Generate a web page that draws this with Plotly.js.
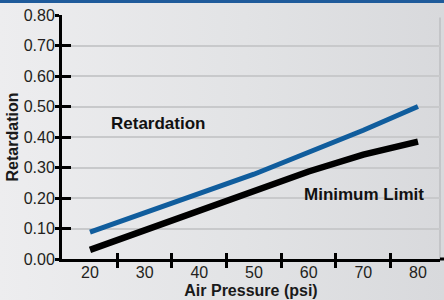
<!DOCTYPE html>
<html>
<head>
<meta charset="utf-8">
<script src="https://cdn.plot.ly/plotly-3.0.1.min.js"></script>
<style>
  html, body { margin: 0; padding: 0; }
  body {
    width: 444px; height: 300px; overflow: hidden;
    background: linear-gradient(to right, #ededef 0%, #e2e3e5 55%, #d8d9dc 100%);
  }
  #topband { position: absolute; left: 0; top: 0; width: 444px; height: 3px; background: #1f5b9b; }
  #chart { position: absolute; left: 0; top: 0; width: 444px; height: 300px; }
</style>
</head>
<body>
<div id="topband"></div>
<div id="chart"></div>
<script>
// Data
const pressure = [20, 30, 40, 50, 60, 70, 80];
const retardation = [0.088, 0.150, 0.212, 0.278, 0.350, 0.422, 0.500];
const minimumLimit = [0.030, 0.095, 0.155, 0.220, 0.287, 0.342, 0.385];
const xTickLabels = ['20', '30', '40', '50', '60', '70', '80'];
const xMarkTicks = [25, 35, 45, 55, 65, 75];
const yTicks = [0, 0.1, 0.2, 0.3, 0.4, 0.5, 0.6, 0.7, 0.8];

const xRange = [14.878, 84.03];
const yRange = [0, 0.8];
const fontFam = '"Liberation Sans", Arial, sans-serif';

const traces = [
  {x: pressure, y: minimumLimit, type: 'scatter', mode: 'lines', name: 'Minimum Limit',
   line: {color: '#000000', width: 6.5}, hoverinfo: 'skip'},
  {x: pressure, y: retardation, type: 'scatter', mode: 'lines', name: 'Retardation',
   line: {color: '#105d9d', width: 5}, hoverinfo: 'skip'},
  // empty carriers so the overlay axes (crossing ticks, labels) get drawn
  {x: [], y: [], type: 'scatter', mode: 'lines', xaxis: 'x2', yaxis: 'y2', hoverinfo: 'skip'},
  {x: [], y: [], type: 'scatter', mode: 'lines', xaxis: 'x3', yaxis: 'y', hoverinfo: 'skip'}
];

const layout = {
  width: 444, height: 300,
  margin: {l: 62, r: 4, t: 15, b: 41, pad: 0},
  paper_bgcolor: 'rgba(0,0,0,0)',
  plot_bgcolor: 'rgba(0,0,0,0)',
  showlegend: false,
  font: {family: fontFam, color: '#231f20', size: 16},
  xaxis: {
    range: xRange, fixedrange: true, anchor: 'y',
    tickmode: 'array', tickvals: xMarkTicks, showticklabels: false,
    ticks: 'outside', ticklen: 6, tickwidth: 3, tickcolor: '#000',
    showline: true, linecolor: '#000', linewidth: 3,
    showgrid: false, zeroline: false
  },
  xaxis2: {
    overlaying: 'x', anchor: 'y2', range: xRange, fixedrange: true,
    tickmode: 'array', tickvals: xMarkTicks, showticklabels: false,
    ticks: 'inside', ticklen: 6, tickwidth: 3, tickcolor: '#000',
    showline: false, showgrid: false, zeroline: false
  },
  xaxis3: {
    overlaying: 'x', anchor: 'y', range: xRange, fixedrange: true,
    tickmode: 'array', tickvals: pressure, ticktext: xTickLabels,
    ticks: '', showline: false, showgrid: false, zeroline: false,
    tickfont: {family: fontFam, size: 16, color: '#231f20'},
    ticklabelstandoff: 2,
    title: {text: 'Air Pressure (psi)', standoff: 4,
            font: {family: fontFam, size: 16, color: '#1a1a1a', weight: 'bold'}}
  },
  yaxis: {
    range: yRange, fixedrange: true, anchor: 'x',
    tickmode: 'array', tickvals: yTicks, tickformat: '.2f',
    ticks: 'outside', ticklen: 4, tickwidth: 3, tickcolor: '#000',
    showline: true, linecolor: '#000', linewidth: 3,
    showgrid: true, gridcolor: '#c8c9cb', gridwidth: 2,
    zeroline: false,
    tickfont: {family: fontFam, size: 16, color: '#231f20'},
    ticklabelstandoff: -3,
    title: {text: 'Retardation', standoff: 2,
            font: {family: fontFam, size: 16, color: '#1a1a1a', weight: 'bold'}}
  },
  yaxis2: {
    overlaying: 'y', anchor: 'x2', range: yRange, fixedrange: true,
    tickmode: 'array', tickvals: yTicks, showticklabels: false,
    ticks: 'inside', ticklen: 9, tickwidth: 3, tickcolor: '#000',
    showline: false, showgrid: false, zeroline: false
  },
  shapes: [
    {type: 'line', xref: 'paper', yref: 'paper', x0: 1, x1: 1, y0: 0, y1: 0.99,
     line: {color: '#c4c5c8', width: 2}, layer: 'below'},
    {type: 'line', xref: 'paper', yref: 'paper', x0: 1, x1: 1.02, y0: 0, y1: 0,
     line: {color: '#000', width: 3}}
  ],
  annotations: [
    {x: 32.4, y: 0.445, xref: 'x', yref: 'y', text: 'Retardation', showarrow: false,
     font: {family: fontFam, size: 17, color: '#111', weight: 'bold'}},
    {x: 70.1, y: 0.213, xref: 'x', yref: 'y', text: 'Minimum Limit', showarrow: false,
     font: {family: fontFam, size: 17, color: '#111', weight: 'bold'}}
  ]
};

Plotly.newPlot('chart', traces, layout, {displayModeBar: false, staticPlot: true});
</script>
</body>
</html>
